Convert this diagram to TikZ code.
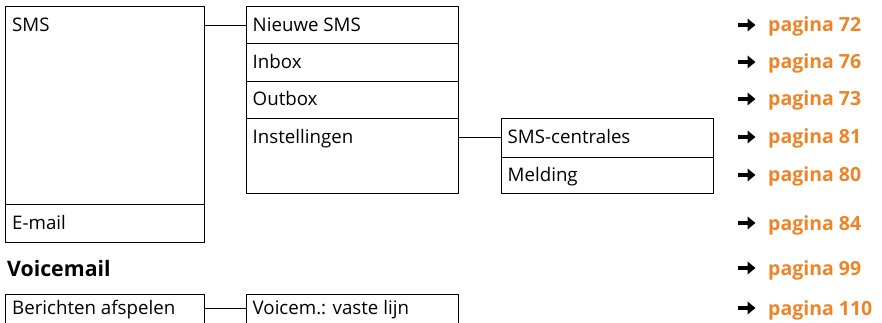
\documentclass[tikz,border=0pt]{standalone}
\usepackage{fontspec}
\setmainfont{Open Sans}
\usetikzlibrary{arrows.meta}
\definecolor{pagorange}{RGB}{238,132,40}
\begin{document}
\begin{tikzpicture}[x=1pt,y=-1pt,
  cell/.style={draw, line width=0.9pt, rectangle, inner sep=0pt, anchor=north west},
  lbl/.style={anchor=base west, inner sep=0pt, font=\fontsize{18.7}{21}\selectfont},
  head/.style={anchor=base west, inner sep=0pt, font=\fontsize{21.3}{24}\selectfont\bfseries},
  pref/.style={anchor=base west, inner sep=0pt, text=pagorange, font=\fontsize{19.5}{22}\selectfont\bfseries},
  pagearrow/.style={line width=3.6pt, -{Triangle[length=8pt,width=12.5pt]}},
  conn/.style={line width=0.9pt}]
\useasboundingbox (0,0) rectangle (882,323);
\clip (0,0) rectangle (882,323);
% cells
\node[cell, minimum width=199pt, minimum height=198pt] (sms) at (5,6) {};
\node[cell, minimum width=199pt, minimum height=38pt] (email) at (5,204) {};
\node[cell, minimum width=212pt, minimum height=37pt] (nsms) at (246,6) {};
\node[cell, minimum width=212pt, minimum height=38pt] (inbox) at (246,43) {};
\node[cell, minimum width=212pt, minimum height=37pt] (outbox) at (246,81) {};
\node[cell, minimum width=212pt, minimum height=75pt] (inst) at (246,118) {};
\node[cell, minimum width=212pt, minimum height=39pt] (smsc) at (501,118) {};
\node[cell, minimum width=212pt, minimum height=36pt] (meld) at (501,157) {};
\node[cell, minimum width=199pt, minimum height=60pt] (ber) at (5,294) {};
\node[cell, minimum width=212pt, minimum height=60pt] (voic) at (246,294) {};
% labels
\node[lbl] (tsms) at (12,31.8) {SMS};
\node[lbl] (tnsms) at (252.5,31.8) {Nieuwe SMS};
\node[lbl] (tinbox) at (252.5,68.8) {Inbox};
\node[lbl] (toutbox) at (252.5,105.8) {Outbox};
\node[lbl] (tinst) at (252.5,143.8) {Instellingen};
\node[lbl] (tsmsc) at (507.5,143.8) {SMS-centrales};
\node[lbl] (tmeld) at (507.5,181.8) {Melding};
\node[lbl] (temail) at (12,229.8) {E-mail};
\node[head] (tvoice) at (7,276) {Voicemail};
\node[lbl] (tber) at (12,314.8) {Berichten afspelen};
\node[lbl] (tvoic) at (252.5,314.8) {Voicem.: vaste lijn};
% connectors
\draw[conn] ([yshift=-19pt]sms.north east) -- ([yshift=-19pt]nsms.north west);
\draw[conn] ([yshift=-19pt]inst.north east) -- ([yshift=-19pt]smsc.north west);
\draw[conn] ([yshift=-14pt]ber.north east) -- ([yshift=-14pt]voic.north west);
% page references
\node[pref] (p72) at (768,32) {pagina 72};
\node[pref] (p76) at (768,69) {pagina 76};
\node[pref] (p73) at (768,106) {pagina 73};
\node[pref] (p81) at (768,144) {pagina 81};
\node[pref] (p80) at (768,182) {pagina 80};
\node[pref] (p84) at (768,230) {pagina 84};
\node[pref] (p99) at (768,275) {pagina 99};
\node[pref] (p110) at (768,315) {pagina 110};
\foreach \p/\yy in {p72/25,p76/62,p73/99,p81/137,p80/175,p84/223,p99/268,p110/308}{
  \draw[pagearrow] (738,\yy) -- (755.5,\yy);
}
\end{tikzpicture}
\end{document}
